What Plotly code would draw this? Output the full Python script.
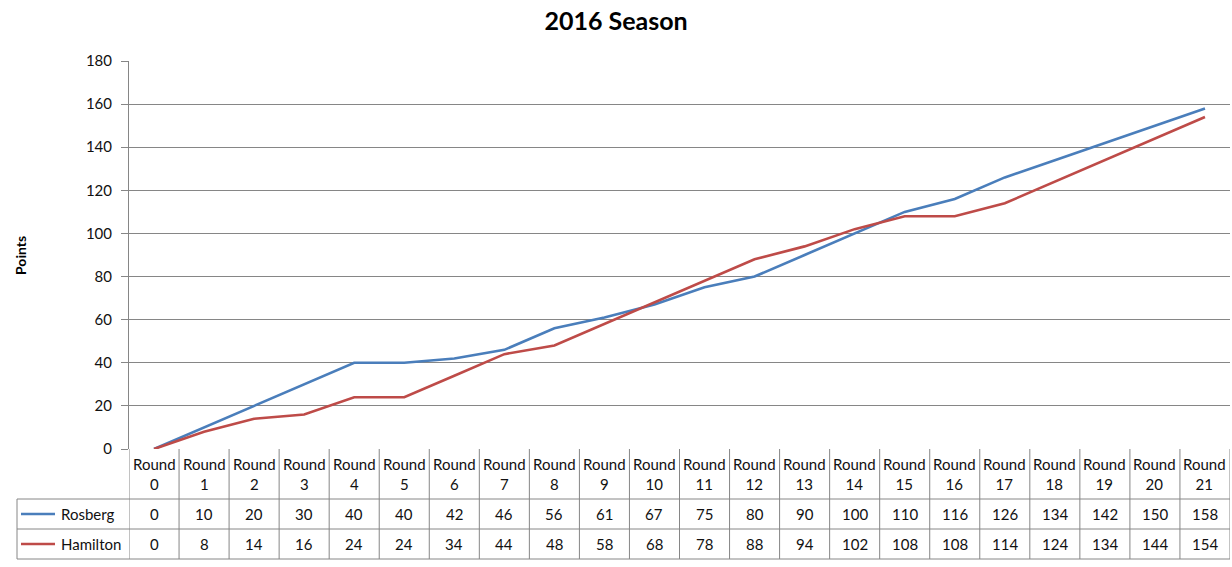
import plotly.graph_objects as go

rounds = [f"Round {i}" for i in range(22)]
round_idx = list(range(22))
rosberg = [0, 10, 20, 30, 40, 40, 42, 46, 56, 61, 67, 75, 80, 90, 100, 110, 116, 126, 134, 142, 150, 158]
hamilton = [0, 8, 14, 16, 24, 24, 34, 44, 48, 58, 68, 78, 88, 94, 102, 108, 108, 114, 124, 134, 144, 154]
series_names = ["Rosberg", "Hamilton"]
series_colors = ["#4A7EBB", "#BE4B48"]
y_ticks = list(range(0, 181, 20))

W, H = 1232, 567
FONT = "Lato, Open Sans, sans-serif"
GRID = "#868686"
TXT = "#111111"

def py(px):
    return 1 - px / H

def pxx(px):
    return px / W

fig = go.Figure()
for name, vals, col in zip(series_names, [rosberg, hamilton], series_colors):
    fig.add_trace(go.Scatter(x=round_idx, y=vals, mode="lines", name=name,
                             line=dict(color=col, width=2.6), showlegend=False))

plot_left, plot_right, plot_top, plot_bottom = 129, 1230, 61, 449
row_header_bottom, row1_bottom, row2_bottom = 499, 529, 559
legend_left = 17

shapes = []
annotations = []
for k in range(23):
    shapes.append(dict(type="line", xref="x", yref="paper", x0=k - 0.5, x1=k - 0.5,
                       y0=py(row2_bottom), y1=py(plot_bottom), line=dict(color=GRID, width=1)))
shapes.append(dict(type="line", xref="paper", yref="paper", x0=pxx(legend_left), x1=pxx(legend_left),
                   y0=py(row2_bottom), y1=py(row_header_bottom), line=dict(color=GRID, width=1)))
for yy in [row_header_bottom, row1_bottom, row2_bottom]:
    shapes.append(dict(type="line", xref="paper", yref="paper", x0=pxx(legend_left), x1=pxx(plot_right),
                       y0=py(yy), y1=py(yy), line=dict(color=GRID, width=1)))

for i, r in enumerate(rounds):
    word, num = r.split(" ")
    annotations.append(dict(x=i, y=py((plot_bottom + row_header_bottom) / 2), xref="x", yref="paper",
                            xanchor="center", yanchor="middle",
                            text=f"{word}<br>{num}", showarrow=False, font=dict(family=FONT, size=15, color=TXT)))
for row, (name, vals, col) in enumerate(zip(series_names, [rosberg, hamilton], series_colors)):
    top = row_header_bottom if row == 0 else row1_bottom
    bot = row1_bottom if row == 0 else row2_bottom
    yc = py((top + bot) / 2)
    for i, v in enumerate(vals):
        annotations.append(dict(x=i, y=yc, xref="x", yref="paper", text=str(v), showarrow=False,
                                xanchor="center", yanchor="middle",
                                font=dict(family=FONT, size=15, color=TXT)))
    shapes.append(dict(type="line", xref="paper", yref="paper", x0=pxx(21), x1=pxx(55), y0=yc, y1=yc,
                       line=dict(color=col, width=2.6)))
    annotations.append(dict(x=pxx(59), y=yc, xref="paper", yref="paper", text=name, showarrow=False,
                            xanchor="left", yanchor="middle", font=dict(family=FONT, size=15, color=TXT)))

annotations.append(dict(x=pxx(20), y=py(255), xref="paper", yref="paper", text="<b>Points</b>",
                        xanchor="center", yanchor="middle",
                        textangle=-90, showarrow=False, font=dict(family=FONT, size=14, color="#000")))

fig.update_layout(
    width=W, height=H,
    margin=dict(l=0, r=0, t=0, b=0, autoexpand=False),
    paper_bgcolor="white", plot_bgcolor="white",
    title=dict(text="<b>2016 Season</b>", x=0.5, xanchor="center", y=py(21), yanchor="middle",
               yref="container", automargin=False, font=dict(family=FONT, size=25, color="#000")),
    xaxis=dict(domain=[pxx(plot_left), pxx(plot_right)], range=[-0.5, 21.5], showgrid=False,
               showticklabels=False, zeroline=False, showline=False, fixedrange=True, automargin=False),
    yaxis=dict(domain=[py(plot_bottom), py(plot_top)], range=[0, 180], tickvals=y_ticks,
               showgrid=True, gridcolor=GRID, gridwidth=1, zeroline=False, automargin=False,
               showline=True, linecolor=GRID, linewidth=1, ticks="outside", ticklen=7, tickcolor=GRID,
               tickfont=dict(family=FONT, size=15, color=TXT), ticklabelstandoff=6),
    shapes=shapes, annotations=annotations,
)
fig.write_html("out.html", config={"displayModeBar": False},
               post_script="document.body.style.margin='0';")
